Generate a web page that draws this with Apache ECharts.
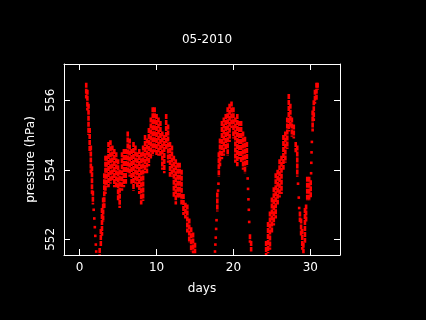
<!DOCTYPE html>
<html lang="en">
<head>
    <meta charset="UTF-8">
    <script src="https://cdn.jsdelivr.net/npm/echarts@6/dist/echarts.min.js"></script>
    <title>05-2010</title>
    <style>
        body { margin: 0; background: #000; }
    </style>
</head>
<body>
    <div id="main" style="width: 426px;height:320px;"></div>
    <script>
        // time (days) and the low / high pressure seen at that time (hPa)
        var days = [0.85, 1.0, 1.15, 1.3, 1.45, 1.6, 1.72, 1.82, 1.9, 1.97, 2.03, 2.1, 2.15,
            2.6, 2.75, 2.9, 3.05, 3.2, 3.35, 3.5, 3.75, 4.0, 4.25, 4.5, 4.75, 5.0, 5.2, 5.5, 5.75,
            6.0, 6.25, 6.5, 6.75, 7.0, 7.25, 7.5, 7.75, 8.0, 8.25, 8.5, 8.75, 9.0, 9.25, 9.5, 9.75,
            10.0, 10.25, 10.5, 10.75, 11.0, 11.25, 11.5, 11.75, 12.0, 12.25, 12.5, 12.75, 13.0, 13.25,
            13.5, 13.75, 14.0, 14.25, 14.5, 14.75, 15.0,
            17.6, 17.65, 17.7, 17.75, 17.8, 17.9, 18.0, 18.05, 18.1, 18.25, 18.5, 18.75, 19.0, 19.25,
            19.5, 19.75, 20.0, 20.25, 20.5, 20.75, 21.0, 21.25, 21.5, 21.75, 21.85, 21.9, 21.95, 22.0,
            22.05, 22.15, 22.3,
            24.25, 24.5, 24.75, 25.0, 25.25, 25.5, 25.75, 26.0, 26.25, 26.5, 26.75, 27.0, 27.2, 27.4,
            27.6, 27.85, 28.1, 28.3, 28.4, 28.5, 28.55, 28.65, 28.8, 28.95, 29.1, 29.3, 29.45, 29.6,
            29.85, 30.05, 30.1, 30.13, 30.16, 30.2, 30.3, 30.45, 30.6, 30.8, 30.95];
        var low = [556.05, 555.7, 555.0, 554.5, 553.9, 553.3, 553.0, 552.85, 552.6, 552.35, 552.1, 551.85, 551.65,
            551.56, 551.8, 552.1, 552.5, 552.9, 553.3, 553.5, 553.5, 553.6, 553.7, 553.5, 553.5, 553.1, 552.9, 553.4, 553.5,
            553.6, 553.9, 553.8, 553.6, 553.4, 553.6, 553.5, 553.3, 553.0, 553.1, 553.9, 553.9, 554.1, 554.3, 554.4, 554.5,
            554.4, 554.4, 554.4, 554.0, 553.9, 554.6, 554.2, 553.8, 553.8, 553.2, 553.0, 553.2, 553.2, 553.0,
            552.7, 552.6, 552.2, 551.9, 551.65, 551.6, 551.6,
            551.65, 551.85, 552.05, 552.3, 552.55, 552.8, 553.4, 553.6, 553.8, 554.1, 554.3, 554.4, 554.6, 554.4,
            554.8, 555.2, 554.9, 554.2, 554.1, 554.3, 554.2, 554.0, 553.9, 554.1, 553.75, 553.45, 553.15, 552.85,
            552.5, 551.9, 551.65,
            551.55, 551.6, 551.7, 552.2, 552.4, 552.6, 553.0, 553.2, 553.3, 554.0, 554.2, 554.6, 555.1, 555.2,
            554.95, 554.9, 554.5, 553.8, 553.6, 553.2, 552.9, 552.5, 552.1, 551.7, 551.6, 551.9, 552.5, 553.1,
            553.1, 553.2, 553.9, 554.2, 554.5, 554.8, 555.1, 555.4, 555.9, 556.0, 556.3];
        var high = [556.5, 556.3, 555.9, 555.2, 554.7, 554.1, 553.4, 552.85, 552.6, 552.35, 552.1, 551.85, 551.65,
            551.75, 552.3, 552.9, 553.2, 553.9, 554.4, 554.4, 554.8, 554.85, 554.7, 554.6, 554.5, 554.3, 554.0, 554.5, 554.6,
            554.6, 555.1, 554.9, 554.6, 554.8, 554.7, 554.5, 554.6, 554.5, 554.7, 555.0, 554.9, 555.2, 555.5, 555.8, 555.8,
            555.6, 555.5, 555.4, 555.1, 555.0, 555.6, 555.3, 554.8, 554.7, 554.4, 554.3, 554.2, 554.2, 554.0,
            553.3, 553.05, 553.0, 552.6, 552.35, 552.2, 551.9,
            551.65, 551.85, 552.05, 552.3, 552.55, 553.35, 553.4, 553.6, 554.5, 554.9, 555.4, 555.5, 555.6, 555.8,
            555.9, 555.96, 555.8, 555.5, 555.6, 555.4, 555.4, 555.1, 554.95, 554.8, 553.75, 553.45, 553.15, 552.85,
            552.5, 552.15, 551.95,
            551.95, 552.5, 552.8, 553.2, 553.5, 553.9, 554.0, 554.3, 554.4, 555.0, 555.1, 555.5, 556.18, 555.9,
            555.5, 555.3, 554.8, 554.7, 553.6, 553.2, 552.9, 552.8, 552.6, 552.3, 551.9, 552.9, 553.0, 553.8,
            553.8, 553.7, 553.9, 554.2, 554.5, 554.8, 555.7, 556.0, 556.3, 556.5, 556.5];

        var xTicks = [0, 10, 20, 30];
        var yTicks = [552, 554, 556];

        var points = [];
        for (var i = 0; i < days.length; i++) {
            points.push([days[i], low[i], high[i]]);
        }

        var font = 'DejaVu Sans';
        var myChart = echarts.init(document.getElementById('main'));

        // bottom/left axes carry the labels, top/right only mirror the ticks
        function xAxisDef(pos, show) {
            return {
                type: 'value', position: pos, min: -2.04, max: 33.86,
                name: show ? 'days' : '', nameLocation: 'middle', nameGap: 28,
                nameTextStyle: { color: '#fff', fontFamily: font, fontSize: 12 },
                axisLine: { show: true, onZero: false, lineStyle: { color: '#fff', width: 1 } },
                axisTick: { show: true, inside: true, length: 6, customValues: xTicks, lineStyle: { color: '#fff' } },
                axisLabel: { show: show, customValues: xTicks, color: '#fff', fontFamily: font, fontSize: 12, margin: 7 },
                splitLine: { show: false }
            };
        }
        function yAxisDef(pos, show) {
            return {
                type: 'value', position: pos, min: 551.55, max: 557.04,
                name: show ? 'pressure (hPa)' : '', nameLocation: 'middle', nameGap: 23, nameRotate: 90,
                nameTextStyle: { color: '#fff', fontFamily: font, fontSize: 12 },
                axisLine: { show: true, onZero: false, lineStyle: { color: '#fff', width: 1 } },
                axisTick: { show: true, inside: true, length: 6, customValues: yTicks, lineStyle: { color: '#fff' } },
                axisLabel: { show: show, customValues: yTicks, rotate: 90, color: '#fff', fontFamily: font, fontSize: 12, margin: 7 },
                splitLine: { show: false }
            };
        }

        var option = {
            backgroundColor: '#000',
            animation: false,
            title: {
                text: '05-2010', left: 202, top: 29, textAlign: 'center',
                textStyle: { color: '#fff', fontFamily: font, fontSize: 12, fontWeight: 'normal' }
            },
            grid: { left: 64, right: 86, top: 64, bottom: 65 },
            xAxis: [xAxisDef('bottom', true), xAxisDef('top', false)],
            yAxis: [yAxisDef('left', true), yAxisDef('right', false)],
            series: [{
                type: 'custom',
                clip: true,
                encode: { x: 0, y: [1, 2] },
                data: points,
                renderItem: function (params, api) {
                    var top = api.coord([api.value(0), api.value(2)]);
                    var bot = api.coord([api.value(0), api.value(1)]);
                    var h = bot[1] - top[1];
                    if (h < 4) {
                        var hh = Math.max(h, 2.6);
                        return {
                            type: 'rect',
                            shape: { x: top[0] - 1.3, y: top[1] - (hh - h) / 2, width: 2.6, height: hh },
                            style: { fill: '#ff0000' }
                        };
                    }
                    // dense stretches: dashed stroke gives the grainy look of many dots
                    return {
                        type: 'line',
                        shape: { x1: top[0], y1: top[1], x2: bot[0], y2: bot[1] },
                        style: { stroke: '#ff0000', lineWidth: 2.6, lineDash: [5, 1] }
                    };
                }
            }]
        };
        myChart.setOption(option);
    </script>
</body>
</html>
